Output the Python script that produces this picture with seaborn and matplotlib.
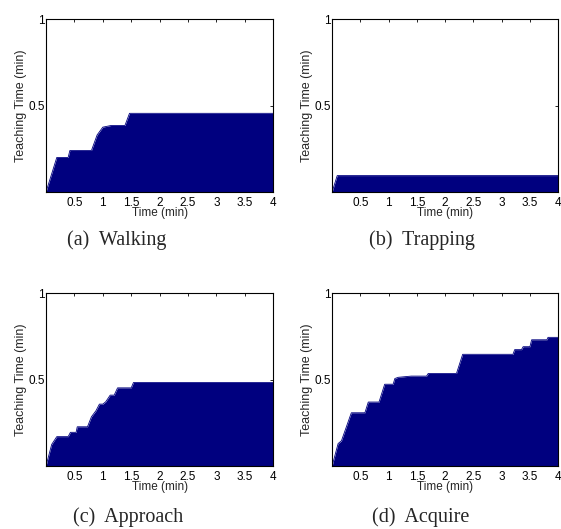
import numpy as np
import pandas as pd
import matplotlib
matplotlib.use("Agg")
import matplotlib.pyplot as plt
import seaborn as sns

# Cumulative teaching time vs elapsed time
walk_t = [0, 0.19, 0.39, 0.42, 0.80, 0.90, 1.00, 1.15, 1.39, 1.47, 4.0]
walk_y = [0, 0.20, 0.20, 0.24, 0.24, 0.33, 0.375, 0.385, 0.385, 0.455, 0.455]

trap_t = [0, 0.09, 4.0]
trap_y = [0, 0.095, 0.095]

appr_t = [0, 0.10, 0.19, 0.39, 0.43, 0.53, 0.55, 0.73, 0.80, 0.88, 0.94, 1.00,
          1.05, 1.13, 1.20, 1.26, 1.50, 1.54, 4.0]
appr_y = [0, 0.125, 0.17, 0.17, 0.195, 0.195, 0.227, 0.227, 0.285, 0.32, 0.358,
          0.358, 0.371, 0.41, 0.41, 0.452, 0.452, 0.483, 0.483]

acq_t = [0, 0.106, 0.165, 0.34, 0.58, 0.64, 0.83, 0.93, 1.08, 1.11, 1.17, 1.40,
         1.67, 1.70, 2.20, 2.31, 3.20, 3.23, 3.35, 3.38, 3.50, 3.53, 3.80, 3.82, 4.0]
acq_y = [0, 0.13, 0.146, 0.308, 0.308, 0.37, 0.37, 0.473, 0.473, 0.506, 0.513,
         0.52, 0.52, 0.535, 0.535, 0.646, 0.646, 0.673, 0.673, 0.69, 0.69, 0.73,
         0.73, 0.744, 0.744]

panels = [
    ("(a)  Walking", walk_t, walk_y),
    ("(b)  Trapping", trap_t, trap_y),
    ("(c)  Approach", appr_t, appr_y),
    ("(d)  Acquire", acq_t, acq_y),
]

x_ticks = [0.5, 1, 1.5, 2, 2.5, 3, 3.5, 4]
x_ticklabels = ["0.5", "1", "1.5", "2", "2.5", "3", "3.5", "4"]
y_ticks = [0.5, 1]
y_ticklabels = ["0.5", "1"]

sns.set_style("white")
plt.rcParams['font.family'] = ['Liberation Sans', 'DejaVu Sans']

fill_color = "#00007f"

fig = plt.figure(figsize=(5.61, 5.29), dpi=100)

# axes rectangles in figure fractions
rects = [
    [0.082, 0.637, 0.405, 0.327],
    [0.592, 0.637, 0.403, 0.327],
    [0.082, 0.119, 0.405, 0.327],
    [0.592, 0.119, 0.403, 0.327],
]
caption_pos = [(0.208, 0.546), (0.752, 0.546), (0.228, 0.022), (0.750, 0.022)]

for (caption, t, y), rect, cpos in zip(panels, rects, caption_pos):
    ax = fig.add_axes(rect)
    df = pd.DataFrame({"t": t, "y": y})
    ax.fill_between(df["t"], 0, df["y"], color=fill_color, linewidth=0)
    sns.lineplot(data=df, x="t", y="y", ax=ax, color=fill_color, linewidth=0.6)
    ax.set_xlim(0, 4)
    ax.set_ylim(0, 1)
    ax.set_xticks(x_ticks)
    ax.set_xticklabels(x_ticklabels)
    ax.set_yticks(y_ticks)
    ax.set_yticklabels(y_ticklabels)
    ax.tick_params(direction="in", length=2.5, width=0.6, top=True, right=True,
                   labelsize=8.5, pad=3.5, colors="black")
    ax.tick_params(axis="y", pad=1)
    for s in ax.spines.values():
        s.set_visible(True)
        s.set_color("black")
        s.set_linewidth(0.8)
    # the x label sits right under the tick labels, as in the original
    ax.set_xlabel("Time (min)", fontsize=8.5, labelpad=-1.5)
    ax.set_ylabel("Teaching Time (min)", fontsize=9, labelpad=1)
    fig.text(cpos[0], cpos[1], caption, ha="center", va="center",
             fontsize=14.5, family=["Liberation Serif", "DejaVu Serif"])

fig.savefig("out.png", dpi=100)
